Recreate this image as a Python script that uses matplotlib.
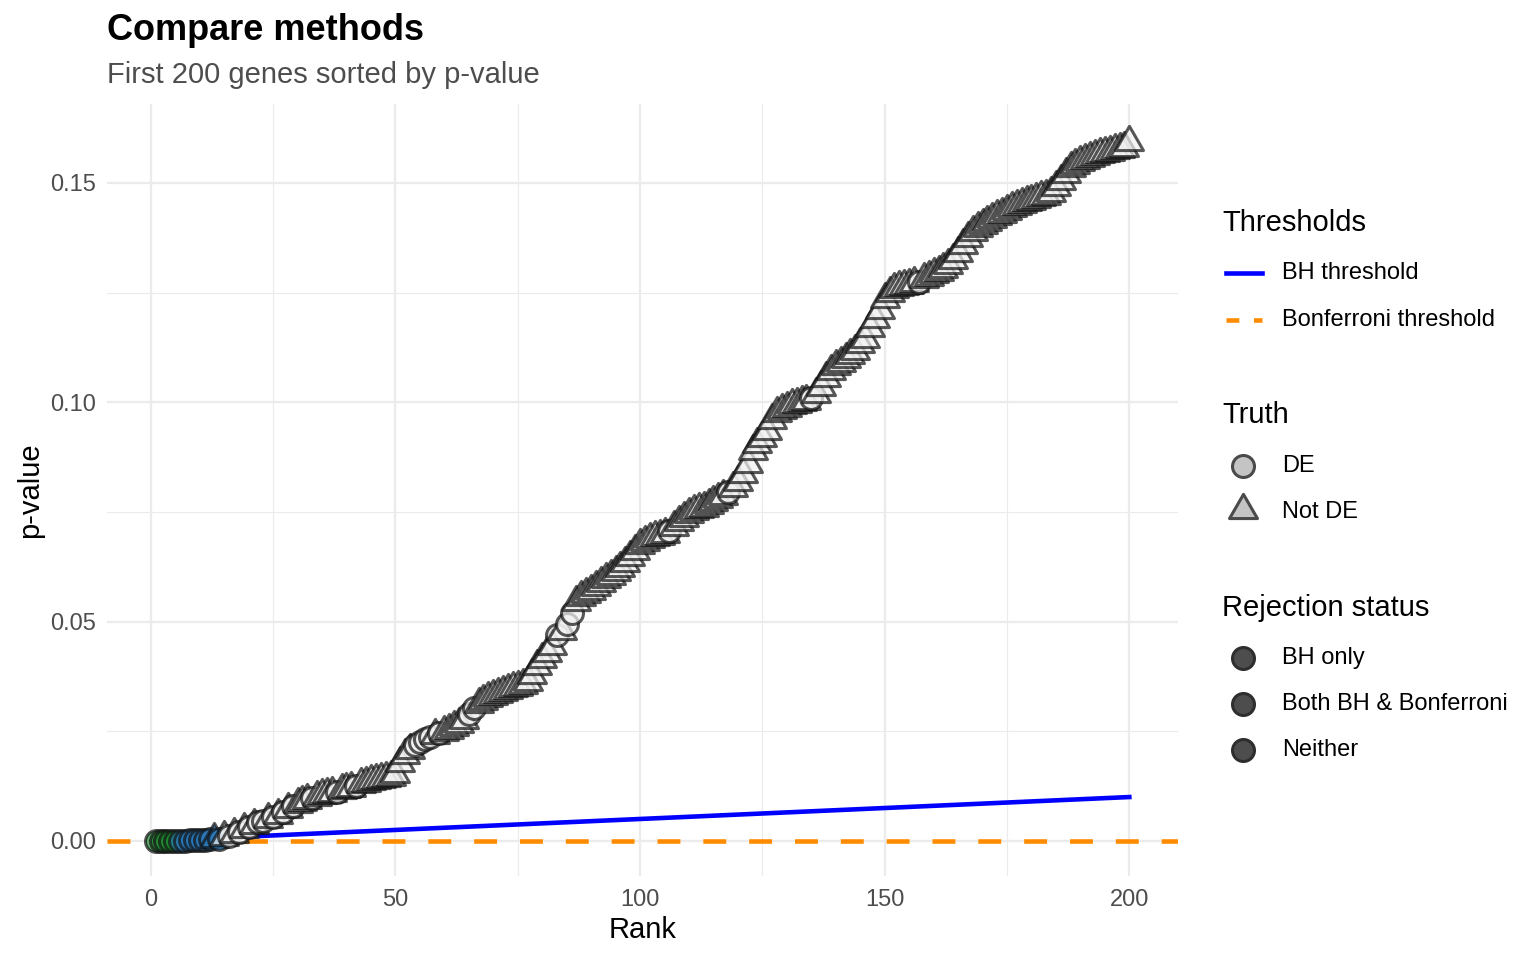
import matplotlib
matplotlib.use("Agg")
import matplotlib.pyplot as plt
from matplotlib.path import Path
import numpy as np

plt.rcParams["font.family"] = ["Liberation Sans", "DejaVu Sans"]

# sorted p-values of the first 200 genes
pvalues = [
    0.000001, 0.000003, 0.000008, 0.000020, 0.000040,
    0.000070, 0.000090, 0.000120, 0.000180, 0.000250,
    0.000310, 0.000380, 0.000450, 0.000520, 0.000900,
    0.001100, 0.001500, 0.002100, 0.002700, 0.003100,
    0.003600, 0.004200, 0.004600, 0.005100, 0.005500,
    0.006000, 0.006600, 0.007200, 0.007900, 0.008500,
    0.008900, 0.009300, 0.009700, 0.010100, 0.010400,
    0.010800, 0.011000, 0.011200, 0.011500, 0.011800,
    0.012100, 0.012500, 0.012900, 0.013300, 0.013600,
    0.013900, 0.014100, 0.014300, 0.014600, 0.015200,
    0.017800, 0.019500, 0.020700, 0.021800, 0.022600,
    0.023300, 0.023800, 0.024200, 0.024500, 0.024900,
    0.025300, 0.025900, 0.026600, 0.027600, 0.029000,
    0.030200, 0.031200, 0.032000, 0.032600, 0.033100,
    0.033600, 0.034000, 0.034400, 0.034800, 0.035200,
    0.035600, 0.036200, 0.037800, 0.039800, 0.041500,
    0.042800, 0.044500, 0.047000, 0.047800, 0.049500,
    0.052000, 0.054500, 0.055600, 0.056300, 0.057000,
    0.057800, 0.058800, 0.059600, 0.060400, 0.061300,
    0.062200, 0.063400, 0.064800, 0.066200, 0.067400,
    0.068200, 0.068800, 0.069200, 0.069600, 0.070000,
    0.070700, 0.071600, 0.072600, 0.073600, 0.074500,
    0.075100, 0.075600, 0.076000, 0.076500, 0.077200,
    0.078000, 0.078700, 0.079500, 0.080500, 0.081800,
    0.083600, 0.086000, 0.088800, 0.090500, 0.091800,
    0.093500, 0.096000, 0.097500, 0.098300, 0.098800,
    0.099300, 0.099600, 0.100000, 0.100400, 0.101000,
    0.102000, 0.103500, 0.105500, 0.107200, 0.108200,
    0.109000, 0.109800, 0.110800, 0.111800, 0.113200,
    0.114500, 0.117000, 0.119000, 0.121000, 0.123500,
    0.125000, 0.125800, 0.126200, 0.126500, 0.126800,
    0.127100, 0.127500, 0.128000, 0.128600, 0.129200,
    0.129700, 0.130300, 0.131200, 0.132500, 0.134000,
    0.135800, 0.137500, 0.138800, 0.139800, 0.140500,
    0.141200, 0.141800, 0.142400, 0.143000, 0.143600,
    0.144200, 0.144800, 0.145200, 0.145600, 0.146000,
    0.146400, 0.146700, 0.147000, 0.147800, 0.149000,
    0.150500, 0.152000, 0.153300, 0.154200, 0.154800,
    0.155300, 0.155700, 0.156100, 0.156500, 0.156800,
    0.157100, 0.157400, 0.157700, 0.158000, 0.159400,
]
# ranks of truly differentially expressed genes (circles)
de_ranks = [1, 2, 3, 4, 5, 6, 7, 8, 9, 10, 11, 12, 14, 16, 18, 20, 22, 23,
            25, 27, 29, 33, 38, 42, 54, 55, 56, 57, 59, 65, 66, 83, 85, 86,
            106, 118, 135, 157]

alpha_level = 0.05
n_genes = 1000

status_colors = {"BH only": "#2a78b8", "Both BH & Bonferroni": "#1f8a32",
                 "Neither": "#f2f2f2"}

p = np.array(pvalues)
rank = np.arange(1, len(p) + 1)
bh_line = alpha_level * rank / n_genes
bonf = alpha_level / n_genes

below = np.where(p <= bh_line)[0]
bh_k = below.max() + 1 if len(below) else 0
status = []
for r, pv in zip(rank, p):
    if pv <= bonf:
        status.append("Both BH & Bonferroni")
    elif r <= bh_k:
        status.append("BH only")
    else:
        status.append("Neither")

# triangle centred on its centroid, like R's pch 24
tri = Path([(0, 1), (-0.866, -0.5), (0.866, -0.5), (0, 1)],
           [Path.MOVETO, Path.LINETO, Path.LINETO, Path.CLOSEPOLY])
CIRC_S = 250
TRI_S = 540
EDGE_W = 2.2

fig = plt.figure(figsize=(15.36, 9.6), dpi=100)
ax = fig.add_axes([107 / 1536, 1 - 876 / 960, (1178 - 107) / 1536, (876 - 104) / 960])

ax.set_xlim(-8.95, 209.95)
ax.set_ylim(-0.008, 0.168)
ax.set_xticks([0, 50, 100, 150, 200])
ax.set_xticks([25, 75, 125, 175], minor=True)
ax.set_yticks([0, 0.05, 0.10, 0.15])
ax.set_yticklabels(["0.00", "0.05", "0.10", "0.15"])
ax.set_yticks([0.025, 0.075, 0.125], minor=True)
ax.grid(which="major", color="#ebebeb", linewidth=1.6)
ax.grid(which="minor", color="#ebebeb", linewidth=0.8)
ax.set_axisbelow(True)
for s in ax.spines.values():
    s.set_visible(False)
ax.tick_params(which="both", length=0, labelsize=17, labelcolor="#4d4d4d")
ax.tick_params(axis="x", pad=9)
ax.tick_params(axis="y", pad=8)

ax.plot(rank, bh_line, color="#0000ff", linewidth=3.3, zorder=2)
ax.axhline(bonf, color="#ff8c00", linewidth=3.3, dashes=(5, 5), zorder=2)

for r, pv, st in zip(rank, p, status):
    is_de = r in de_ranks
    ax.scatter([r], [pv], marker="o" if is_de else tri, s=CIRC_S if is_de else TRI_S,
               facecolor=status_colors[st], edgecolor="#111111", linewidths=EDGE_W,
               alpha=0.7, zorder=3)

fig.text(643 / 1536, 1 - 930 / 960, "Rank", fontsize=21, va="center", ha="center")
fig.text(30 / 1536, 1 - 490 / 960, "p-value", fontsize=21, va="center", ha="center",
         rotation=90)

fig.text(107 / 1536, 1 - 30 / 960, "Compare methods", fontsize=26, fontweight="bold",
         va="center", ha="left")
fig.text(107 / 1536, 1 - 75 / 960, "First 200 genes sorted by p-value", fontsize=21,
         color="#4d4d4d", va="center", ha="left")

# legend drawn by hand in pixel coordinates
lg = fig.add_axes([0, 0, 1, 1])
lg.set_xlim(0, 1536)
lg.set_ylim(960, 0)
lg.axis("off")
title_x, key_x, lab_x = 1222, 1243, 1282


def leg_title(y, txt):
    lg.text(title_x, y, txt, fontsize=21, va="center", ha="left")


def leg_label(y, txt):
    lg.text(lab_x, y, txt, fontsize=17, va="center", ha="left")


leg_title(223, "Thresholds")
lg.plot([1226, 1262], [273, 273], color="#0000ff", linewidth=3.3)
leg_label(273, "BH threshold")
lg.plot([1226, 1262], [320, 320], color="#ff8c00", linewidth=3.3, dashes=(2.8, 3.2))
leg_label(320, "Bonferroni threshold")

leg_title(415, "Truth")
lg.scatter([key_x], [466], marker="o", s=CIRC_S, facecolor="#c4c4c4", edgecolor="#4a4a4a",
           linewidths=EDGE_W)
leg_label(466, "DE")
lg.scatter([key_x], [510], marker=tri, s=TRI_S, facecolor="#c4c4c4", edgecolor="#4a4a4a",
           linewidths=EDGE_W)
leg_label(512, "Not DE")

leg_title(608, "Rejection status")
for y, name in [(658, "BH only"), (704, "Both BH & Bonferroni"), (750, "Neither")]:
    lg.scatter([key_x], [y], marker="o", s=CIRC_S, facecolor="#4d4d4d", edgecolor="#2e2e2e",
               linewidths=EDGE_W)
    leg_label(y, name)

fig.savefig("out.png", dpi=100)
